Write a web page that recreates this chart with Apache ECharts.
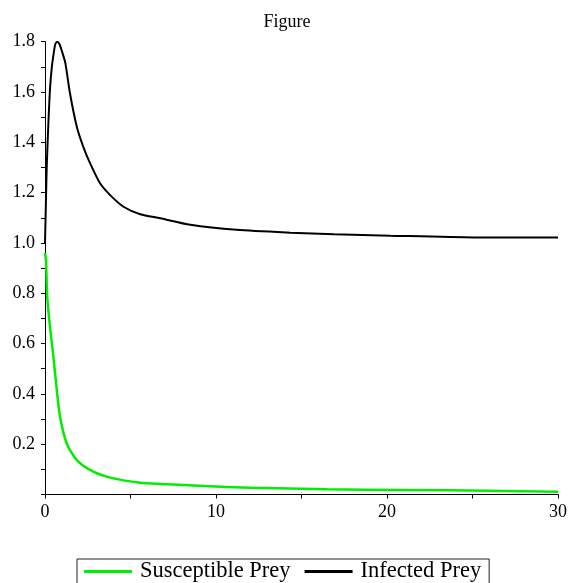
<!DOCTYPE html>
<html>
<head>
<meta charset="utf-8">
<script src="https://cdn.jsdelivr.net/npm/echarts@6/dist/echarts.min.js"></script>
<style>html,body{margin:0;padding:0;background:#fff}#c{width:574px;height:583px}</style>
</head>
<body>
<div id="c"></div>
<script>
var titleText = 'Figure';
var seriesNames = ['Susceptible Prey', 'Infected Prey'];
var xTicks = [0, 10, 20, 30];
var yTicks = [0.2, 0.4, 0.6, 0.8, 1.0, 1.2, 1.4, 1.6, 1.8];

var susT = [0, 0.06, 0.13, 0.29, 0.49, 0.69, 0.88, 1.27, 1.86, 2.83, 4.0, 5.57, 6.74, 7.5, 9.3, 12.0, 16.5, 21, 26, 30];
var susV = [0.96, 0.93, 0.786, 0.667, 0.548, 0.415, 0.309, 0.203, 0.137, 0.091, 0.064, 0.047, 0.042, 0.040, 0.034, 0.027, 0.021, 0.018, 0.015, 0.011];

var infT = [0, 0.05, 0.1, 0.2, 0.3, 0.4, 0.5, 0.6, 0.72, 0.85, 1.0, 1.19, 1.46, 1.86, 2.24, 2.64, 3.22, 3.81, 4.59, 5.57, 6.74, 8.5, 11.2, 14.35, 16.9, 20.2, 25.1, 30];
var infV = [1.0, 1.15, 1.3, 1.48, 1.62, 1.7, 1.75, 1.79, 1.80, 1.79, 1.76, 1.715, 1.595, 1.462, 1.382, 1.316, 1.237, 1.19, 1.144, 1.114, 1.098, 1.072, 1.052, 1.041, 1.035, 1.029, 1.022, 1.022];

function zip(a, b) { return a.map(function (v, i) { return [v, b[i]]; }); }

var chart = echarts.init(document.getElementById('c'), null, { renderer: 'canvas' });
var serif = 'Liberation Serif, Times New Roman, serif';
chart.setOption({
  animation: false,
  backgroundColor: '#fff',
  title: {
    text: titleText, left: 'center', top: 8,
    textStyle: { fontFamily: serif, fontSize: 18, fontWeight: 'normal', color: '#000' }
  },
  grid: { left: 45, right: 16, top: 41.7, bottom: 88.5, containLabel: false },
  xAxis: {
    type: 'value', min: 0, max: 30, interval: 10,
    axisLine: { show: true, lineStyle: { color: '#000', width: 1 } },
    axisTick: { show: true, length: 4, lineStyle: { color: '#000' } },
    minorTick: { show: true, splitNumber: 2, length: 4, lineStyle: { color: '#000' } },
    splitLine: { show: false },
    axisLabel: { fontFamily: serif, fontSize: 18, color: '#000', margin: 9,
      formatter: function (v) { return xTicks.indexOf(v) >= 0 ? String(v) : ''; } }
  },
  yAxis: {
    type: 'value', min: 0, max: 1.8, interval: 0.2,
    axisLine: { show: true, onZero: false, lineStyle: { color: '#000', width: 1 } },
    axisTick: { show: true, length: 4, lineStyle: { color: '#000' } },
    minorTick: { show: true, splitNumber: 2, length: 4, lineStyle: { color: '#000' } },
    splitLine: { show: false },
    axisLabel: { fontFamily: serif, fontSize: 18, color: '#000', margin: 10,
      formatter: function (v) {
        for (var i = 0; i < yTicks.length; i++) { if (Math.abs(yTicks[i] - v) < 1e-6) return yTicks[i].toFixed(1); }
        return '';
      } }
  },
  legend: {
    left: 77, top: 559,
    data: seriesNames,
    icon: 'rect', itemWidth: 48, itemHeight: 3, itemGap: 14,
    borderColor: '#222', borderWidth: 1, padding: [1, 8, 1, 7],
    textStyle: { fontFamily: serif, fontSize: 22.5, color: '#000', padding: [0, 0, 0, 3] }
  },
  series: [
    { name: seriesNames[0], type: 'line', data: zip(susT, susV), showSymbol: false,
      smooth: 0.25,
      lineStyle: { color: '#00ee00', width: 2.5 }, itemStyle: { color: '#00ee00' } },
    { name: seriesNames[1], type: 'line', data: zip(infT, infV), showSymbol: false,
      smooth: 0.25,
      lineStyle: { color: '#000', width: 2 }, itemStyle: { color: '#000' } }
  ]
});
</script>
</body>
</html>
